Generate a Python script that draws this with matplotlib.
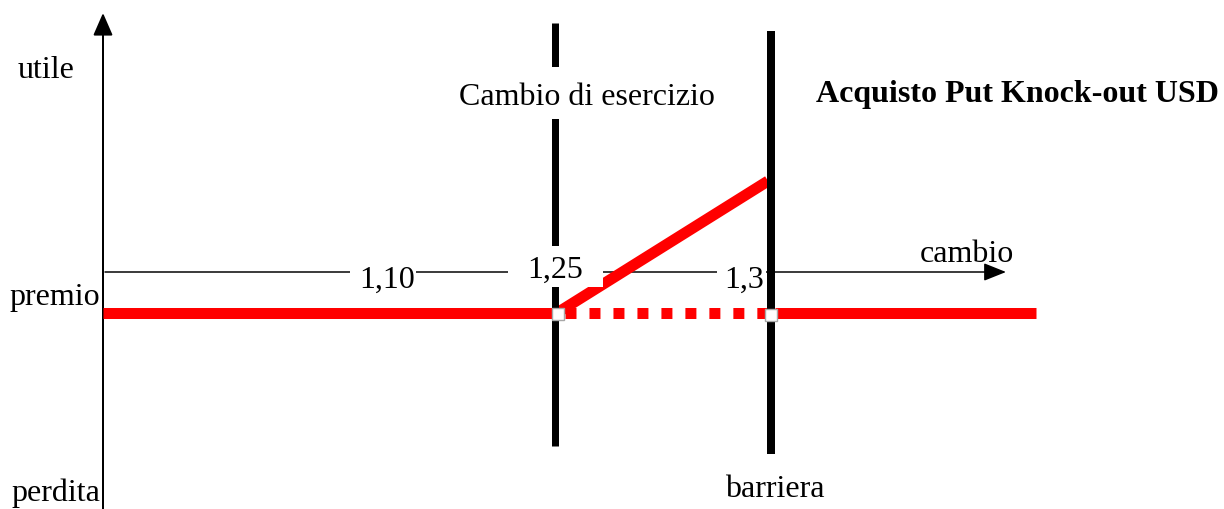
import matplotlib
matplotlib.use("Agg")
import matplotlib.pyplot as plt
from matplotlib.patches import Rectangle

# ---- schematic data (drawing coordinates, y grows downward) ----
rate_labels = ["1,10", "1,25", "1,3"]
rate_label_x = [387, 555, 744]
rate_label_base = [288, 278, 288]

strike_x = 555          # Cambio di esercizio
barrier_x = 771         # barriera
axis_y = 273            # horizontal (cambio) axis
premium_y = 314         # premio level

payoff_left_x = [103, 553]
payoff_dotted_x = [565, 768]
payoff_right_x = [775, 1036]
payoff_diag_x = [557, 768]
payoff_diag_y = [314, 182]

node_x = [558, 771]
node_y = [315, 316]

# label knock-out boxes (x0, y0, x1, y1)
label_boxes = [(350, 255, 416, 292), (508, 247, 603, 288), (717, 255, 766, 292),
               (450, 68, 724, 120)]

W, H = 1224, 510
fig = plt.figure(figsize=(W / 100, H / 100), dpi=100)
ax = fig.add_axes([0, 0, 1, 1])
ax.set_xlim(0, W)
ax.set_ylim(H, 0)
ax.axis("off")

PT = 0.72  # px -> pt at dpi 100
serif = ["Liberation Serif", "DejaVu Serif"]
fs = 23

# thin axes with arrows
ax.annotate("", xy=(1006, axis_y), xytext=(105, axis_y),
            arrowprops=dict(arrowstyle="-|>,head_length=0.55,head_width=0.22",
                            mutation_scale=25, lw=1.5 * PT, color="black",
                            shrinkA=0, shrinkB=0), zorder=1)
ax.annotate("", xy=(103, 14), xytext=(103, 512),
            arrowprops=dict(arrowstyle="-|>,head_length=0.55,head_width=0.24",
                            mutation_scale=25, lw=2 * PT, color="black",
                            shrinkA=0, shrinkB=0), zorder=1)

# red payoff
red = "#ff0000"
lw_red = 11 * PT
ax.plot(payoff_left_x, [premium_y] * 2, color=red, lw=lw_red, solid_capstyle="butt", zorder=2)
ax.plot(payoff_right_x, [premium_y] * 2, color=red, lw=lw_red, solid_capstyle="butt", zorder=2)
ax.plot(payoff_dotted_x, [premium_y] * 2, color=red, lw=lw_red, dash_capstyle="butt",
        linestyle=(0, (1.0, 1.18)), zorder=2)
ax.plot(payoff_diag_x, payoff_diag_y, color=red, lw=lw_red, solid_capstyle="butt", zorder=2)

# thick black verticals
ax.plot([strike_x, strike_x], [24, 447], color="black", lw=7 * PT, solid_capstyle="butt", zorder=3)
ax.plot([barrier_x, barrier_x], [32, 455], color="black", lw=8 * PT, solid_capstyle="butt", zorder=3)

# white label boxes
for x0, y0, x1, y1 in label_boxes:
    ax.add_patch(Rectangle((x0, y0), x1 - x0, y1 - y0, facecolor="white",
                           edgecolor="none", zorder=4))

# nodes
ax.plot(node_x, node_y, linestyle="none", marker="s", ms=8.5, mfc="white",
        mec="#a8a8a8", mew=1.0, zorder=5)

# texts
for lab, x, y in zip(rate_labels, rate_label_x, rate_label_base):
    ax.text(x, y, lab, ha="center", va="baseline", fontsize=fs, family=serif, zorder=6)

ax.text(46, 78, "utile", ha="center", va="baseline", fontsize=fs, family=serif, zorder=6)
ax.text(100, 305, "premio", ha="right", va="baseline", fontsize=fs, family=serif, zorder=6)
ax.text(100, 501, "perdita", ha="right", va="baseline", fontsize=fs, family=serif, zorder=6)
ax.text(587, 105, "Cambio di esercizio", ha="center", va="baseline", fontsize=fs,
        family=serif, zorder=6)
ax.text(1018, 102, "Acquisto Put Knock-out USD", ha="center", va="baseline",
        fontsize=fs, fontweight="bold", family=serif, zorder=6)
ax.text(967, 262, "cambio", ha="center", va="baseline", fontsize=fs, family=serif, zorder=6)
ax.text(775, 497, "barriera", ha="center", va="baseline", fontsize=fs, family=serif, zorder=6)

fig.savefig("out.png", dpi=100)
